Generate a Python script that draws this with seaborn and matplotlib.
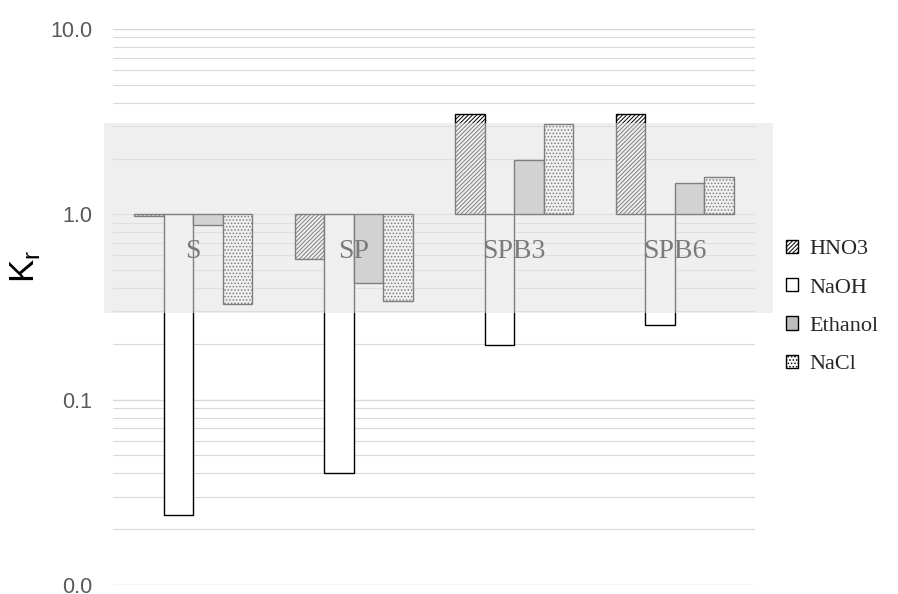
import numpy as np
import pandas as pd
import matplotlib
matplotlib.use("Agg")
import matplotlib.pyplot as plt
import matplotlib.transforms as mtransforms
from matplotlib.patches import Rectangle
import seaborn as sns

# Retention ratio Kr per sample and solvent
samples = ["S", "SP", "SPB3", "SPB6"]
solvents = ["HNO3", "NaOH", "Ethanol", "NaCl"]
kr_hno3 = [0.975, 0.577, 3.46, 3.46]
kr_naoh = [0.0238, 0.0404, 0.197, 0.253]
kr_ethanol = [0.88, 0.428, 1.96, 1.48]
kr_nacl = [0.327, 0.339, 3.06, 1.60]
tick_values = [0.01, 0.1, 1.0, 10.0]
tick_labels = ["0.0", "0.1", "1.0", "10.0"]

series = {"HNO3": kr_hno3, "NaOH": kr_naoh, "Ethanol": kr_ethanol, "NaCl": kr_nacl}
rows = []
for solvent in solvents:
    for sample, v in zip(samples, series[solvent]):
        rows.append({"sample": sample, "solvent": solvent, "kr": v})
df = pd.DataFrame(rows)
# bars grow from Kr = 1 on a logarithmic value axis
df["log_kr"] = np.log10(df["kr"])

sns.set_theme(style="white")
plt.rcParams["hatch.linewidth"] = 0.7
plt.rcParams["font.family"] = ["Liberation Sans", "DejaVu Sans"]

fig = plt.figure(figsize=(8.98, 5.94), dpi=100)
ax = fig.add_axes([113 / 898, 1 - 585 / 594, 642 / 898, 556 / 594])

palette = {"HNO3": "white", "NaOH": "white", "Ethanol": "#bdbdbd", "NaCl": "white"}
sns.barplot(data=df, x="sample", y="log_kr", hue="solvent", hue_order=solvents,
            order=samples, palette=palette, saturation=1, width=0.735, gap=0,
            errorbar=None, edgecolor="black", linewidth=1.0, ax=ax, zorder=2)

hatches = {"HNO3": "////////", "NaOH": "", "Ethanol": "", "NaCl": "....."}
for container, solvent in zip(ax.containers, solvents):
    for bar in container:
        bar.set_hatch(hatches[solvent])

if ax.get_legend() is not None:
    ax.get_legend().remove()

# log-style grid: major decades plus minor 2..9 lines
ylo, yhi = np.log10(tick_values[0]), np.log10(tick_values[-1])
grid_color = "#d9d9d9"
for k in range(int(ylo), int(yhi)):
    for m in range(2, 10):
        ax.axhline(np.log10(m * 10.0 ** k), color=grid_color, lw=0.8, zorder=0)
for t in tick_values:
    ax.axhline(np.log10(t), color=grid_color, lw=1.0, zorder=0)

ax.set_ylim(ylo, yhi)
ax.set_xlim(-0.5, len(samples) - 0.5)
ax.set_yticks(np.log10(tick_values))
ax.set_yticklabels(tick_labels, color="#595959", fontsize=15.5,
                   family=["Liberation Sans", "DejaVu Sans"])
ax.tick_params(axis="y", length=0, pad=15)
ax.set_xticks([])
ax.set_xlabel("")
ax.set_ylabel("")
for s in ax.spines.values():
    s.set_visible(False)

# translucent highlight band over the central range
trans = mtransforms.blended_transform_factory(ax.transAxes, ax.transData)
band_lo, band_hi = np.log10(0.295), np.log10(3.1)
band = Rectangle((-0.014, band_lo), 1.042, band_hi - band_lo, transform=trans,
                 facecolor="#e4e4e4", edgecolor="none", alpha=0.56,
                 clip_on=False, zorder=5)
ax.add_patch(band)

# sample names inside the plot
for i, name in enumerate(samples):
    ax.text(i, -0.2, name, ha="center", va="center", fontsize=20,
            family=["Liberation Serif", "DejaVu Serif"], color="#7a7a7a", zorder=6)

# y-axis title
fig.text(25 / 898, 1 - 266 / 594, r"K$_\mathregular{r}$", rotation=90,
         ha="center", va="center", fontsize=25, color="black",
         family=["Liberation Sans", "DejaVu Sans"])

handles = [c.patches[0] for c in ax.containers]
leg = fig.legend(handles, solvents, loc="center left",
                 bbox_to_anchor=(786 / 898, 1 - 307 / 594), frameon=False,
                 prop={"family": ["Liberation Serif", "DejaVu Serif"], "size": 16},
                 handlelength=0.55, handleheight=0.55, handletextpad=0.5,
                 labelspacing=0.85, borderaxespad=0, borderpad=0)

fig.savefig("out.png", dpi=100)
